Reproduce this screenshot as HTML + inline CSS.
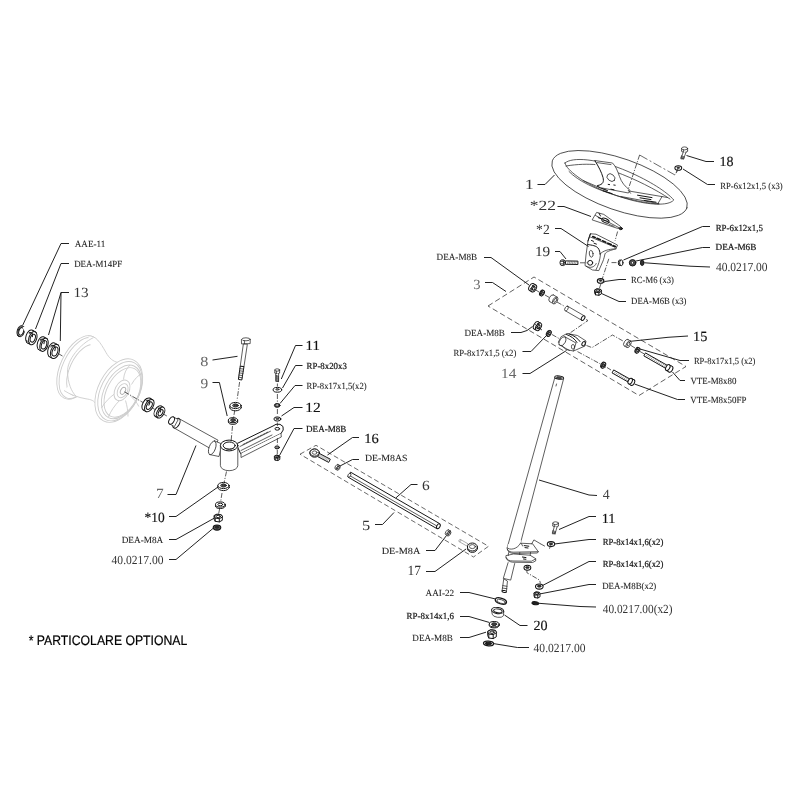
<!DOCTYPE html>
<html lang="it"><head><meta charset="utf-8"><title>Esploso sterzo</title>
<style>
html,body{margin:0;padding:0;background:#fff}
body{width:800px;height:800px;overflow:hidden}
svg{display:block;will-change:transform;-webkit-font-smoothing:antialiased}
text{text-rendering:geometricPrecision}
.l{fill:none;stroke:#2a2a2a;stroke-width:.75;stroke-linejoin:round;stroke-linecap:round}
.lb{fill:none;stroke:#161616;stroke-width:1;stroke-linejoin:round;stroke-linecap:round}
.lt{fill:none;stroke:#444;stroke-width:.55}
.lw{fill:none;stroke:#111;stroke-width:1.05}
.g{fill:none;stroke:#cdcdcd;stroke-width:.9}
.g2{fill:none;stroke:#999;stroke-width:.8}
.ld{fill:none;stroke:#161616;stroke-width:.95;stroke-linejoin:round}
.dd{fill:none;stroke:#333;stroke-width:.8;stroke-dasharray:5 1.5 1.2 1.5}
.dd2{fill:none;stroke:#444;stroke-width:.8;stroke-dasharray:9 2.5 2 2.5}
.ds2{fill:none;stroke:#444;stroke-width:.8;stroke-dasharray:5 2.8}
.ds{fill:none;stroke:#3a3a3a;stroke-width:.8;stroke-dasharray:5.5 3}
text{font-family:"Liberation Serif","DejaVu Serif",serif;fill:#222}
.ts{font-size:9.3px;fill:#222;stroke:#222;stroke-width:.08}
.tm{font-size:12.3px;fill:#333}
.tn{font-size:14px;fill:#111;stroke:#111;stroke-width:.15}
.tn2{font-size:14px;fill:#333}
.tg{font-size:14px;fill:#666}
.tg2{font-size:14px;fill:#444}
.tsb{font-size:9.3px;fill:#111;stroke:#111;stroke-width:.2}
.tb{font-family:"Liberation Sans","DejaVu Sans",sans-serif;font-size:13.7px;fill:#000;stroke:#000;stroke-width:.2}
</style></head>
<body>
<svg width="800" height="800" viewBox="0 0 800 800">
<rect width="800" height="800" fill="#fff"/>
<ellipse class="g" cx="78.5" cy="367.4" rx="34.0" ry="18.0" transform="rotate(-65.0 78.5 367.4)" style="fill:#fff"/>
<ellipse class="g" cx="79.7" cy="368.0" rx="32.6" ry="17.0" transform="rotate(-65.0 79.7 368.0)" />
<ellipse class="g" cx="84.0" cy="370.2" rx="27.5" ry="14.2" transform="rotate(-65.0 84.0 370.2)" />
<path class="g" d="M88 335.8 C96 335.5 100 342 106 352.5 C109 358 113 361.5 118 362.5 L140 380 L110 420 L96.5 404.5 C94 400.5 91 399.5 86 398.8 C78 397.5 70 394.5 64 390.5 L75 380 L92 350 Z" style="fill:#fff;stroke:none"/>
<path class="g" d="M88 335.8 C96 335.5 100 342 106 352.5 C109 358 113 361.5 118 362.5" />
<path class="g" d="M64 390.5 C70 394.5 78 397.5 86 398.8 C91 399.5 94 400.5 96.5 404.5" />
<path class="g" d="M93.5 337.6 C80 344 67 360 67.5 372 C68 383 71 391 76 396.2" />
<ellipse class="g" cx="118.8" cy="390.6" rx="34.0" ry="20.5" transform="rotate(-63.0 118.8 390.6)" style="fill:#fff"/>
<ellipse class="g" cx="120.0" cy="391.2" rx="31.8" ry="19.0" transform="rotate(-63.0 120.0 391.2)" />
<ellipse class="g" cx="121.4" cy="391.9" rx="28.8" ry="17.0" transform="rotate(-63.0 121.4 391.9)" />
<ellipse class="g" cx="122.4" cy="392.4" rx="26.6" ry="15.6" transform="rotate(-63.0 122.4 392.4)" />
<path class="g" d="M123.5 379.5 C124 373 126.5 368.5 130 365 M131.5 384.5 C134.5 379 138 375.5 142 373.5" />
<path class="g" d="M115 393.5 C109.5 397.5 104.5 402.5 101.5 408 M119.5 400.5 C114.5 405.5 110.5 411.5 108.5 417" />
<path class="g" d="M125.5 400.5 C127 405.5 128 411 128 416.5 M130.5 396 C134 399 137 402.5 138.8 406.5" />
<ellipse class="g" cx="122.0" cy="390.4" rx="11.0" ry="7.0" transform="rotate(-63.0 122.0 390.4)" style="fill:#fff"/>
<ellipse class="g" cx="122.6" cy="390.7" rx="7.5" ry="4.8" transform="rotate(-63.0 122.6 390.7)" />
<ellipse class="g" cx="123.0" cy="390.8" rx="3.8" ry="2.3" transform="rotate(-63.0 123.0 390.8)" style="stroke:#aaa"/>
<path class="dd" d="M59.0 354.0 L62.5 356.0" />
<path class="dd" d="M124.5 391.8 L143.0 402.5" />
<path class="l" d="M152.0 407.8 L154.5 409.2" />
<path class="l" d="M163.0 413.8 L166.5 415.8" />
<ellipse class="lb" cx="20.4" cy="330.9" rx="5.4" ry="3.1" transform="rotate(-72.0 20.4 330.9)" style="fill:#fff"/>
<path class="lb" d="M18.5 336.1 L17.7 335.6 L23.1 326.3 L23.9 326.7" style="fill:#fff;stroke:none"/>
<path class="lb" d="M18.5 336.1 L17.7 335.6" />
<path class="lb" d="M23.9 326.7 L23.1 326.3" />
<ellipse class="lb" cx="21.2" cy="331.4" rx="5.4" ry="3.1" transform="rotate(-72.0 21.2 331.4)" style="fill:#fff"/>
<ellipse class="lb" cx="21.2" cy="331.4" rx="3.9" ry="2.3" transform="rotate(-72.0 21.2 331.4)" style="fill:#fff"/>
<path class="lb" d="M24.2 327.9 L26.7 332.4" style="stroke:#fff;stroke-width:2.6"/>
<ellipse class="lb" cx="29.9" cy="336.5" rx="6.8" ry="3.9" transform="rotate(-72.0 29.9 336.5)" style="fill:#fff"/>
<path class="lb" d="M29.4 344.1 L26.5 342.4 L33.3 330.6 L36.2 332.3" style="fill:#fff;stroke:none"/>
<path class="lb" d="M29.4 344.1 L26.5 342.4" />
<path class="lb" d="M36.2 332.3 L33.3 330.6" />
<ellipse class="lb" cx="32.8" cy="338.2" rx="6.8" ry="3.9" transform="rotate(-72.0 32.8 338.2)" style="fill:#fff"/>
<ellipse class="lb" cx="32.8" cy="338.2" rx="4.1" ry="2.4" transform="rotate(-72.0 32.8 338.2)" style="fill:#fff"/>
<clipPath id="c1"><ellipse cx="32.8" cy="338.2" rx="4.1" ry="2.4" transform="rotate(-72.0 32.8 338.2)"/></clipPath>
<ellipse class="lb" cx="29.9" cy="336.5" rx="4.1" ry="2.4" transform="rotate(-72.0 29.9 336.5)" clip-path="url(#c1)" style="fill:none"/>
<path class="l" d="M29.0 332.2 L32.4 334.2" />
<path class="l" d="M26.2 340.4 L29.6 342.4" />
<ellipse class="lb" cx="41.4" cy="343.3" rx="6.8" ry="3.9" transform="rotate(-72.0 41.4 343.3)" style="fill:#fff"/>
<path class="lb" d="M40.6 350.7 L38.0 349.2 L44.8 337.4 L47.4 338.9" style="fill:#fff;stroke:none"/>
<path class="lb" d="M40.6 350.7 L38.0 349.2" />
<path class="lb" d="M47.4 338.9 L44.8 337.4" />
<ellipse class="lb" cx="44.0" cy="344.8" rx="6.8" ry="3.9" transform="rotate(-72.0 44.0 344.8)" style="fill:#fff"/>
<ellipse class="lb" cx="44.0" cy="344.8" rx="4.4" ry="2.5" transform="rotate(-72.0 44.0 344.8)" style="fill:#fff"/>
<clipPath id="c2"><ellipse cx="44.0" cy="344.8" rx="4.4" ry="2.5" transform="rotate(-72.0 44.0 344.8)"/></clipPath>
<ellipse class="lb" cx="41.4" cy="343.3" rx="4.4" ry="2.5" transform="rotate(-72.0 41.4 343.3)" clip-path="url(#c2)" style="fill:none"/>
<ellipse class="lb" cx="52.2" cy="349.9" rx="7.3" ry="4.2" transform="rotate(-72.0 52.2 349.9)" style="fill:#fff"/>
<path class="lb" d="M51.4 357.8 L48.6 356.2 L55.9 343.6 L58.6 345.2" style="fill:#fff;stroke:none"/>
<path class="lb" d="M51.4 357.8 L48.6 356.2" />
<path class="lb" d="M58.6 345.2 L55.9 343.6" />
<ellipse class="lb" cx="55.0" cy="351.5" rx="7.3" ry="4.2" transform="rotate(-72.0 55.0 351.5)" style="fill:#fff"/>
<ellipse class="lb" cx="55.0" cy="351.5" rx="4.7" ry="2.7" transform="rotate(-72.0 55.0 351.5)" style="fill:#fff"/>
<clipPath id="c3"><ellipse cx="55.0" cy="351.5" rx="4.7" ry="2.7" transform="rotate(-72.0 55.0 351.5)"/></clipPath>
<ellipse class="lb" cx="52.2" cy="349.9" rx="4.7" ry="2.7" transform="rotate(-72.0 52.2 349.9)" clip-path="url(#c3)" style="fill:none"/>
<ellipse class="lb" cx="146.7" cy="404.1" rx="6.8" ry="3.9" transform="rotate(-60.0 146.7 404.1)" style="fill:#fff"/>
<path class="lb" d="M145.9 411.5 L143.3 410.0 L150.1 398.2 L152.7 399.7" style="fill:#fff;stroke:none"/>
<path class="lb" d="M145.9 411.5 L143.3 410.0" />
<path class="lb" d="M152.7 399.7 L150.1 398.2" />
<ellipse class="lb" cx="149.3" cy="405.6" rx="6.8" ry="3.9" transform="rotate(-60.0 149.3 405.6)" style="fill:#fff"/>
<ellipse class="lb" cx="149.3" cy="405.6" rx="4.2" ry="2.4" transform="rotate(-60.0 149.3 405.6)" style="fill:#fff"/>
<clipPath id="c4"><ellipse cx="149.3" cy="405.6" rx="4.2" ry="2.4" transform="rotate(-60.0 149.3 405.6)"/></clipPath>
<ellipse class="lb" cx="146.7" cy="404.1" rx="4.2" ry="2.4" transform="rotate(-60.0 146.7 404.1)" clip-path="url(#c4)" style="fill:none"/>
<ellipse class="lb" cx="158.3" cy="411.3" rx="6.0" ry="3.5" transform="rotate(-60.0 158.3 411.3)" style="fill:#fff"/>
<path class="lb" d="M157.6 417.8 L155.3 416.5 L161.3 406.1 L163.6 407.4" style="fill:#fff;stroke:none"/>
<path class="lb" d="M157.6 417.8 L155.3 416.5" />
<path class="lb" d="M163.6 407.4 L161.3 406.1" />
<ellipse class="lb" cx="160.6" cy="412.6" rx="6.0" ry="3.5" transform="rotate(-60.0 160.6 412.6)" style="fill:#fff"/>
<ellipse class="lb" cx="160.6" cy="412.6" rx="3.5" ry="2.0" transform="rotate(-60.0 160.6 412.6)" style="fill:#fff"/>
<clipPath id="c5"><ellipse cx="160.6" cy="412.6" rx="3.5" ry="2.0" transform="rotate(-60.0 160.6 412.6)"/></clipPath>
<ellipse class="lb" cx="158.3" cy="411.3" rx="3.5" ry="2.0" transform="rotate(-60.0 158.3 411.3)" clip-path="url(#c5)" style="fill:none"/>
<path class="l" d="M158.0 408.0 L160.5 409.5" />
<path class="l" d="M156.0 415.6 L158.5 417.0" />
<path class="lb" d="M236.5 443.8 L273.0 426.0 L276.0 424.3 L280.0 424.3 L283.0 426.5 L283.2 430.0 L281.0 433.5 L241.0 453.5 Z" style="fill:#fff"/>
<path class="l" d="M281.0 433.5 L281.3 437.0 L241.0 457.5 L241.0 453.5" style="fill:#fff"/>
<path class="l" d="M240.0 446.5 L270.5 431.2" />
<path class="l" d="M241.0 450.5 L272.0 435.0" />
<path class="l" d="M243.0 444.5 L268.0 432.0" style="stroke-dasharray:2 1.2"/>
<ellipse class="lb" cx="277.3" cy="428.8" rx="2.3" ry="1.4" style="fill:#fff"/>
<path class="l" d="M178.6 418.4 L218.0 440.2 L214.0 450.6 L174.2 428.0" style="fill:#fff"/>
<ellipse class="lb" cx="176.4" cy="423.2" rx="5.3" ry="3.0" transform="rotate(-60.0 176.4 423.2)" style="fill:#fff"/>
<path class="l" d="M173.6 417.0 L178.2 419.6 L174.4 426.6 L169.6 424.0" style="fill:#fff"/>
<ellipse class="lb" cx="171.6" cy="420.5" rx="4.1" ry="2.4" transform="rotate(-60.0 171.6 420.5)" style="fill:#fff"/>
<path class="l" d="M214.8 441.0 L222.0 444.0 L219.0 456.5 L209.8 454.6 Z" style="fill:#fff"/>
<ellipse class="l" cx="212.3" cy="447.8" rx="7.2" ry="3.2" transform="rotate(-70.0 212.3 447.8)" style="fill:#fff"/>
<path class="l" d="M220.4 445.5 L220.4 465.5 A8.7 5.2 0 0 0 237.8 465.5 L237.8 445.5 Z" style="fill:#fff"/>
<ellipse class="lb" cx="229.1" cy="445.5" rx="8.7" ry="5.4" style="fill:#fff"/>
<ellipse class="lb" cx="229.2" cy="445.6" rx="6.0" ry="3.6" style="fill:#fff"/>
<path class="l" d="M223.8 447 A5.6 3.2 0 0 0 234.6 447" />
<path class="l" d="M241.8 339.4 L250.2 339.4 L250.2 343.6 L241.9 343.9 Z" style="fill:#fff"/>
<ellipse class="l" cx="246.0" cy="339.3" rx="4.2" ry="1.5" style="fill:#fff"/>
<path class="l" d="M244.4 340.8 L244.5 343.7" />
<path class="l" d="M243.3 344.4 L240.2 366.5 L243.9 367.0 L247.3 344.6 Z" style="fill:#fff"/>
<path class="lb" d="M240.2 366.5 L238.4 379.4 L241.8 380.0 L243.9 367.0 Z" style="fill:#fff"/>
<path class="l" d="M239.9 368.6 L243.5 369.1" />
<path class="l" d="M239.6 370.8 L243.2 371.3" />
<path class="l" d="M239.3 372.9 L242.9 373.4" />
<path class="l" d="M239.0 375.1 L242.6 375.6" />
<path class="l" d="M238.7 377.2 L242.3 377.8" />
<path class="dd" d="M239.6 382.0 L237.0 400.5" />
<path class="dd" d="M234.8 410.0 L233.5 418.0" />
<path class="dd" d="M232.5 426.0 L231.0 442.0" />
<ellipse class="lb" cx="235.5" cy="407.7" rx="5.6" ry="3.1" style="fill:#fff"/>
<rect x="229.9" y="405.5" width="11.2" height="2.2" fill="#fff" stroke="none"/>
<path class="lb" d="M229.9 405.5 L229.9 407.7" />
<path class="lb" d="M241.1 405.5 L241.1 407.7" />
<ellipse class="lb" cx="235.5" cy="405.5" rx="5.6" ry="3.1" style="fill:#fff"/>
<ellipse class="lb" cx="235.5" cy="405.5" rx="2.8" ry="1.5" style="fill:#fff"/>
<ellipse class="l" cx="235.5" cy="405.3" rx="2.0" ry="1.1" style="fill:#444"/>
<ellipse class="lb" cx="233.0" cy="421.8" rx="4.6" ry="2.5" style="fill:#fff"/>
<rect x="228.4" y="420.2" width="9.2" height="1.6" fill="#fff" stroke="none"/>
<path class="lb" d="M228.4 420.2 L228.4 421.8" />
<path class="lb" d="M237.6 420.2 L237.6 421.8" />
<ellipse class="lb" cx="233.0" cy="420.2" rx="4.6" ry="2.5" style="fill:#fff"/>
<ellipse class="lb" cx="233.0" cy="420.2" rx="2.3" ry="1.3" style="fill:#fff"/>
<ellipse class="l" cx="233.0" cy="419.8" rx="1.8" ry="1.0" style="fill:#444"/>
<path class="dd" d="M226.5 471.5 L224.0 483.0" />
<path class="dd" d="M222.0 493.0 L220.6 502.0" />
<path class="dd" d="M219.6 509.0 L218.6 514.0" />
<ellipse class="lb" cx="223.5" cy="487.5" rx="5.6" ry="3.1" style="fill:#fff"/>
<rect x="217.9" y="485.5" width="11.2" height="2.0" fill="#fff" stroke="none"/>
<path class="lb" d="M217.9 485.5 L217.9 487.5" />
<path class="lb" d="M229.1 485.5 L229.1 487.5" />
<ellipse class="lb" cx="223.5" cy="485.5" rx="5.6" ry="3.1" style="fill:#fff"/>
<ellipse class="lb" cx="223.5" cy="485.5" rx="2.8" ry="1.5" style="fill:#fff"/>
<ellipse class="l" cx="223.5" cy="485.3" rx="2.0" ry="1.1" style="fill:#444"/>
<ellipse class="lb" cx="220.3" cy="505.9" rx="4.8" ry="2.6" style="fill:#fff"/>
<rect x="215.5" y="504.5" width="9.6" height="1.4" fill="#fff" stroke="none"/>
<path class="lb" d="M215.5 504.5 L215.5 505.9" />
<path class="lb" d="M225.1 504.5 L225.1 505.9" />
<ellipse class="lb" cx="220.3" cy="504.5" rx="4.8" ry="2.6" style="fill:#fff"/>
<ellipse class="lb" cx="220.3" cy="504.5" rx="2.4" ry="1.3" style="fill:#fff"/>
<path class="lb" d="M214.1 515.9 L214.1 519.1 L215.2 521.3 L219.3 521.9 L222.3 520.3 L222.3 517.1 L221.2 514.9 L217.1 514.3 Z" style="fill:#fff"/>
<path class="lb" d="M222.3 517.1 L219.3 518.7 L215.2 518.1 L214.1 515.9 L217.1 514.3 L221.2 514.9 Z" style="fill:#fff"/>
<path class="lb" d="M219.3 518.7 L219.3 521.9" />
<path class="lb" d="M215.2 518.1 L215.2 521.3" />
<ellipse class="lb" cx="218.2" cy="516.5" rx="2.1" ry="1.2" style="fill:#fff"/>
<ellipse class="lw" cx="217.0" cy="527.5" rx="3.8" ry="2.6" style="fill:#555"/>
<ellipse class="lw" cx="217.0" cy="527.2" rx="1.8" ry="1.0" style="fill:#333;stroke-width:0.6"/>
<ellipse class="l" cx="277.2" cy="370.0" rx="2.4" ry="1.2" style="fill:#fff"/>
<path class="l" d="M274.8 370.0 L274.8 372.8" />
<path class="l" d="M279.6 370.0 L279.6 372.8" />
<path class="l" d="M274.8 372.8 A2.4 1.2 0 0 0 279.6 372.8" />
<path class="l" d="M276.4 371.2 L276.4 374.0" />
<path class="l" d="M275.8 374.0 L275.8 381.5 L278.6 381.5 L278.6 374.0" style="fill:#fff"/>
<path class="l" d="M275.8 380.4 L278.6 381.6" />
<path class="l" d="M275.8 379.4 L278.6 380.6" />
<path class="l" d="M275.8 378.3 L278.6 379.5" />
<path class="l" d="M275.8 377.3 L278.6 378.5" />
<path class="l" d="M275.8 376.2 L278.6 377.4" />
<path class="l" d="M275.8 375.2 L278.6 376.4" />
<path class="dd" d="M277.4 383.5 L277.4 386.5" />
<ellipse class="lb" cx="277.4" cy="389.8" rx="4.3" ry="2.4" style="fill:#fff"/>
<ellipse class="l" cx="277.4" cy="389.4" rx="1.6" ry="0.8" style="fill:#888"/>
<path class="dd" d="M277.4 394.0 L277.4 402.0" />
<ellipse class="lb" cx="277.2" cy="405.4" rx="2.8" ry="1.9" style="fill:#555"/>
<ellipse class="l" cx="277.2" cy="405.0" rx="1.0" ry="0.6" style="fill:#fff;stroke:none"/>
<path class="dd" d="M277.4 409.0 L277.4 415.0" />
<ellipse class="lb" cx="277.4" cy="419.0" rx="3.5" ry="2.1" style="fill:#fff"/>
<ellipse class="l" cx="277.4" cy="418.8" rx="1.5" ry="0.8" style="fill:#555"/>
<path class="dd" d="M277.4 422.5 L277.4 426.0" />
<path class="dd" d="M277.4 438.0 L277.4 445.0" />
<ellipse class="lb" cx="277.1" cy="447.4" rx="2.3" ry="1.5" style="fill:#888"/>
<path class="dd" d="M277.3 450.0 L277.3 454.5" />
<path class="lb" d="M274.4 456.4 L274.4 458.6 L275.1 460.1 L277.8 460.5 L279.8 459.4 L279.8 457.2 L279.1 455.7 L276.4 455.3 Z" style="fill:#fff"/>
<path class="lb" d="M279.8 457.2 L277.8 458.3 L275.1 457.9 L274.4 456.4 L276.4 455.3 L279.1 455.7 Z" style="fill:#fff"/>
<path class="lb" d="M277.8 458.3 L277.8 460.5" />
<path class="lb" d="M275.1 457.9 L275.1 460.1" />
<ellipse class="lb" cx="277.1" cy="456.8" rx="1.4" ry="0.8" style="fill:#fff"/>
<path class="ds2" d="M300.0 454.2 L316.0 445.3 L488.5 546.3 L473.5 557.0 Z" />
<path class="lb" d="M317.7 456.6 L328.7 462.4 L330.3 459.2 L319.3 453.4 Z" style="fill:#fff"/>
<path class="lt" d="M318.5 457.1 L321.1 454.3" />
<path class="lt" d="M319.9 457.8 L322.4 455.0" />
<path class="lt" d="M321.2 458.5 L323.8 455.7" />
<path class="lt" d="M322.5 459.2 L325.1 456.4" />
<path class="lt" d="M323.9 459.9 L326.4 457.1" />
<path class="lt" d="M325.2 460.6 L327.7 457.8" />
<path class="lt" d="M326.5 461.3 L329.1 458.5" />
<ellipse class="lb" cx="314.6" cy="452.6" rx="4.6" ry="3.6" style="fill:#fff"/>
<ellipse class="lb" cx="314.6" cy="453.6" rx="4.6" ry="3.6" style="fill:#fff"/>
<ellipse class="lb" cx="314.6" cy="452.6" rx="4.6" ry="3.6" style="fill:#fff"/>
<ellipse class="l" cx="314.6" cy="452.6" rx="2.4" ry="1.7" style="fill:#fff"/>
<ellipse class="l" cx="336.8" cy="466.9" rx="2.6" ry="1.5" transform="rotate(-60.0 336.8 466.9)" style="fill:#fff"/>
<path class="l" d="M337.1 470.1 L335.5 469.2 L338.1 464.6 L339.7 465.5" style="fill:#fff;stroke:none"/>
<path class="l" d="M337.1 470.1 L335.5 469.2" />
<path class="l" d="M339.7 465.5 L338.1 464.6" />
<ellipse class="l" cx="338.4" cy="467.8" rx="2.6" ry="1.5" transform="rotate(-60.0 338.4 467.8)" style="fill:#fff"/>
<ellipse class="l" cx="338.4" cy="467.8" rx="1.3" ry="0.8" transform="rotate(-60.0 338.4 467.8)" style="fill:#fff"/>
<path class="l" d="M339.0 466.8 L337.4 465.9" />
<path class="l" d="M337.8 468.8 L336.3 467.9" />
<path class="lb" d="M349.2 474.0 L350.6 472.2 L439.6 523.6 L438.4 528.2 L436.8 528.6 L348.2 477.2 Z" style="fill:#fff"/>
<path class="l" d="M349.4 475.4 L437.6 526.4" />
<ellipse class="l" cx="349.4" cy="475.2" rx="2.2" ry="1.3" transform="rotate(-60.0 349.4 475.2)" style="fill:#fff"/>
<ellipse class="lb" cx="438.4" cy="526.2" rx="2.6" ry="1.6" transform="rotate(-60.0 438.4 526.2)" style="fill:#fff"/>
<ellipse class="l" cx="447.3" cy="532.4" rx="2.8" ry="1.6" transform="rotate(-60.0 447.3 532.4)" style="fill:#fff"/>
<path class="l" d="M447.6 535.8 L445.9 534.8 L448.7 530.0 L450.4 531.0" style="fill:#fff;stroke:none"/>
<path class="l" d="M447.6 535.8 L445.9 534.8" />
<path class="l" d="M450.4 531.0 L448.7 530.0" />
<ellipse class="l" cx="449.0" cy="533.4" rx="2.8" ry="1.6" transform="rotate(-60.0 449.0 533.4)" style="fill:#fff"/>
<ellipse class="l" cx="449.0" cy="533.4" rx="1.4" ry="0.8" transform="rotate(-60.0 449.0 533.4)" style="fill:#fff"/>
<path class="l" d="M449.6 532.3 L447.9 531.3" />
<path class="l" d="M448.4 534.5 L446.6 533.5" />
<path class="g2" d="M460.5 539.5 L468.0 543.8 L466.8 546.0 L459.3 541.7 Z" style="fill:#fff"/>
<ellipse class="g2" cx="459.9" cy="540.6" rx="1.3" ry="0.9" transform="rotate(-60.0 459.9 540.6)" style="fill:#fff"/>
<ellipse class="lb" cx="472.4" cy="548.4" rx="5.0" ry="4.0" style="fill:#fff"/>
<ellipse class="lb" cx="472.4" cy="547.0" rx="5.0" ry="4.0" style="fill:#fff"/>
<ellipse class="l" cx="472.4" cy="546.6" rx="3.0" ry="2.0" style="fill:#fff"/>
<path class="l" d="M554.6 378.4 L507.2 547.7 L520.4 543.4 L563.6 378.8" style="fill:#fff"/>
<ellipse class="lb" cx="559.1" cy="377.6" rx="4.5" ry="1.6" transform="rotate(8.0 559.1 377.6)" style="fill:#fff"/>
<ellipse class="l" cx="559.1" cy="377.7" rx="2.6" ry="0.8" transform="rotate(8.0 559.1 377.7)" style="fill:#555"/>
<path class="l" d="M556.5 384.0 L556.0 386.0" />
<path class="l" d="M508.1 562.6 L503.3 578.4 L510.7 580.1 L514.7 563.5" style="fill:#fff"/>
<path class="l" d="M503.7 579.2 L502.0 591.2 L506.4 591.8 L507.4 581.5 Z" style="fill:#fff"/>
<path class="l" d="M502.4 588.0 L506.8 588.7" />
<path class="l" d="M502.8 585.6 L507.0 586.3" />
<ellipse class="lb" cx="504.2" cy="591.5" rx="2.3" ry="0.9" transform="rotate(8.0 504.2 591.5)" style="fill:#fff"/>
<path class="l" d="M505.9 556 C505.6 559 507.5 561.3 512.5 562.2 L532.6 562.5 L535.7 560.9 L535.7 558.7 L530 555.2 L514 554 Z" style="fill:#fff"/>
<path class="l" d="M506.2 557.6 C507 560 509.5 561 513 561 L531.5 561.2 L535.7 558.9" />
<path class="lb" d="M522.4 557 l3.6 .6 M523.5 559 l2.4 .3" />
<path class="l" d="M508.6 552.6 L508.2 555.6" />
<path class="l" d="M530.6 552.2 L530.2 555.0" />
<path class="l" d="M519.8 552.4 L519.6 554.4" />
<path class="l" d="M507.2 547.7 C506.8 550 508.3 551.6 513 552.2 L538.3 551.7 L532.6 543.8 L520.4 543.2 Z" style="fill:#fff"/>
<path class="l" d="M507.3 549 C507.6 551.6 509.5 553 513.5 553.4 L537.4 553 L538.3 551.7" />
<path class="l" d="M508.2 544.2 L507.2 547.7 C509 550.2 516.5 549.6 520.4 543.4 L521.3 540 Z" style="fill:#fff;stroke:none"/>
<path class="l" d="M507.2 547.7 C509 550.4 517 549.8 520.4 543.4" />
<path class="lb" d="M524.2 545.6 l4.6 .6 M525 547.6 l3 .4" />
<path class="l" d="M521.4 543.6 l1.2 2.4" />
<path class="l" d="M531.7 543.8 L533.9 539.9 L540.5 543.8" />
<ellipse class="l" cx="555.6" cy="523.2" rx="2.8" ry="1.4" style="fill:#fff"/>
<path class="l" d="M552.8 523.2 L552.8 525.8" />
<path class="l" d="M558.4 523.2 L558.4 525.8" />
<path class="l" d="M552.8 525.8 A2.8 1.4 0 0 0 558.4 525.8" />
<path class="l" d="M554.7 524.6 L554.7 527.2" />
<path class="l" d="M554.2 527.0 L552.3 533.8 L555.1 533.8 L557.0 527.0" style="fill:#fff"/>
<path class="l" d="M552.3 532.7 L555.1 533.9" />
<path class="l" d="M552.6 531.7 L555.4 532.9" />
<path class="l" d="M552.9 530.6 L555.7 531.8" />
<ellipse class="lw" cx="551.0" cy="544.1" rx="3.7" ry="2.5" style="fill:#fff"/>
<ellipse class="lw" cx="551.0" cy="543.9" rx="1.7" ry="1.0" style="fill:#333;stroke-width:0.6"/>
<path class="l" d="M550.4 545.6 L549.6 548.4" />
<path class="dd" d="M540.5 543.8 L545.6 546.6" />
<ellipse class="lw" cx="527.4" cy="567.8" rx="3.4" ry="2.5" style="fill:#fff"/>
<ellipse class="lw" cx="527.4" cy="567.5" rx="1.8" ry="1.0" style="fill:#333;stroke-width:0.6"/>
<path class="dd" d="M526.9 569.8 L526.9 572.7 L539.6 580.1 L540.4 583.4" />
<ellipse class="lw" cx="539.3" cy="586.5" rx="3.8" ry="2.6" style="fill:#fff"/>
<ellipse class="lw" cx="539.3" cy="586.2" rx="2.0" ry="1.1" style="fill:#333;stroke-width:0.6"/>
<path class="lb" d="M534.0 593.2 L534.0 596.0 L534.8 597.6 L537.8 598.0 L540.0 596.8 L540.0 594.0 L539.2 592.4 L536.2 592.0 Z" style="fill:#fff"/>
<path class="lb" d="M540.0 594.0 L537.8 595.2 L534.8 594.8 L534.0 593.2 L536.2 592.0 L539.2 592.4 Z" style="fill:#fff"/>
<path class="lb" d="M537.8 595.2 L537.8 598.0" />
<path class="lb" d="M534.8 594.8 L534.8 597.6" />
<ellipse class="lb" cx="537.0" cy="593.6" rx="1.6" ry="0.9" style="fill:#fff"/>
<ellipse class="lb" cx="535.3" cy="603.2" rx="3.4" ry="1.5" transform="rotate(8.0 535.3 603.2)" style="fill:#222"/>
<ellipse class="lb" cx="500.9" cy="601.0" rx="5.8" ry="2.8" transform="rotate(18.0 500.9 601.0)" style="fill:#fff;stroke-width:1.3"/>
<ellipse class="l" cx="501.1" cy="601.5" rx="4.4" ry="1.8" transform="rotate(18.0 501.1 601.5)" style="fill:#fff"/>
<path class="l" d="M491.6 610 L492.2 614.2 A5.8 3 8 0 0 503.4 615.8 L503.8 611.6 Z" style="fill:#fff"/>
<ellipse class="lb" cx="497.7" cy="610.6" rx="6.1" ry="3.1" transform="rotate(8.0 497.7 610.6)" style="fill:#fff"/>
<ellipse class="lb" cx="497.9" cy="610.9" rx="4.3" ry="1.9" transform="rotate(8.0 497.9 610.9)" style="fill:#fff"/>
<ellipse class="lb" cx="494.2" cy="625.2" rx="4.9" ry="2.7" style="fill:#fff"/>
<rect x="489.3" y="624.2" width="9.8" height="1.0" fill="#fff" stroke="none"/>
<path class="lb" d="M489.3 624.2 L489.3 625.2" />
<path class="lb" d="M499.1 624.2 L499.1 625.2" />
<ellipse class="lb" cx="494.2" cy="624.2" rx="4.9" ry="2.7" style="fill:#fff"/>
<ellipse class="lb" cx="494.2" cy="624.2" rx="2.5" ry="1.3" style="fill:#fff"/>
<ellipse class="l" cx="494.2" cy="624.2" rx="2.3" ry="1.2" style="fill:#444"/>
<path class="lb" d="M487.7 631.6 L487.7 635.6 L488.8 638.0 L493.2 638.6 L496.3 636.8 L496.3 632.8 L495.2 630.4 L490.8 629.8 Z" style="fill:#fff"/>
<path class="lb" d="M496.3 632.8 L493.2 634.6 L488.8 634.0 L487.7 631.6 L490.8 629.8 L495.2 630.4 Z" style="fill:#fff"/>
<path class="lb" d="M493.2 634.6 L493.2 638.6" />
<path class="lb" d="M488.8 634.0 L488.8 638.0" />
<ellipse class="lb" cx="492.0" cy="632.2" rx="2.2" ry="1.2" style="fill:#fff"/>
<ellipse class="lb" cx="488.5" cy="643.5" rx="5.0" ry="2.3" transform="rotate(5.0 488.5 643.5)" style="fill:#fff;stroke-width:1.3"/>
<ellipse class="lb" cx="488.5" cy="643.5" rx="3.0" ry="1.2" transform="rotate(5.0 488.5 643.5)" style="fill:#222"/>
<path class="ds" d="M488.0 306.0 L534.0 277.0 L686.0 366.5 L639.0 395.5 Z" />
<ellipse class="lb" cx="531.5" cy="287.1" rx="3.9" ry="2.3" transform="rotate(-60.0 531.5 287.1)" style="fill:#fff"/>
<path class="lb" d="M531.8 291.8 L529.6 290.5 L533.5 283.7 L535.8 285.0" style="fill:#fff;stroke:none"/>
<path class="lb" d="M531.8 291.8 L529.6 290.5" />
<path class="lb" d="M535.8 285.0 L533.5 283.7" />
<ellipse class="lb" cx="533.8" cy="288.4" rx="3.9" ry="2.3" transform="rotate(-60.0 533.8 288.4)" style="fill:#fff"/>
<ellipse class="lb" cx="533.8" cy="288.4" rx="1.9" ry="1.1" transform="rotate(-60.0 533.8 288.4)" style="fill:#fff"/>
<path class="lb" d="M534.7 286.9 L532.4 285.6" />
<path class="lb" d="M532.9 289.9 L530.7 288.6" />
<ellipse class="lb" cx="541.6" cy="292.8" rx="2.9" ry="1.7" transform="rotate(-60.0 541.6 292.8)" style="fill:#fff"/>
<path class="lb" d="M540.9 295.7 L540.2 295.3 L543.1 290.2 L543.9 290.7" style="fill:#fff;stroke:none"/>
<path class="lb" d="M540.9 295.7 L540.2 295.3" />
<path class="lb" d="M543.9 290.7 L543.1 290.2" />
<ellipse class="lb" cx="542.4" cy="293.2" rx="2.9" ry="1.7" transform="rotate(-60.0 542.4 293.2)" style="fill:#fff"/>
<ellipse class="lb" cx="542.4" cy="293.2" rx="1.4" ry="0.8" transform="rotate(-60.0 542.4 293.2)" style="fill:#fff"/>
<ellipse class="l" cx="551.6" cy="298.3" rx="3.8" ry="2.2" transform="rotate(-60.0 551.6 298.3)" style="fill:#fff"/>
<path class="l" d="M553.3 303.7 L549.7 301.6 L553.5 295.0 L557.1 297.1" style="fill:#fff;stroke:none"/>
<path class="l" d="M553.3 303.7 L549.7 301.6" />
<path class="l" d="M557.1 297.1 L553.5 295.0" />
<ellipse class="l" cx="555.2" cy="300.4" rx="3.8" ry="2.2" transform="rotate(-60.0 555.2 300.4)" style="fill:#fff"/>
<ellipse class="l" cx="555.2" cy="300.4" rx="2.1" ry="1.2" transform="rotate(-60.0 555.2 300.4)" style="fill:#fff"/>
<path class="l" d="M567.6 306.2 L584.2 315.8 L582.0 320.4 L565.4 310.8 Z" style="fill:#fff"/>
<ellipse class="l" cx="566.5" cy="308.5" rx="2.6" ry="1.5" transform="rotate(-60.0 566.5 308.5)" style="fill:#fff"/>
<ellipse class="lb" cx="583.1" cy="318.1" rx="2.6" ry="1.5" transform="rotate(-60.0 583.1 318.1)" style="fill:#fff"/>
<path class="dd" d="M535.0 289.5 L539.0 292.0" />
<path class="dd" d="M545.0 295.0 L549.0 297.3" />
<path class="dd" d="M557.0 302.0 L564.0 306.0" />
<path class="dd" d="M586.0 319.5 L588.0 320.5 L570.0 333.0" />
<ellipse class="lb" cx="536.3" cy="325.5" rx="4.2" ry="2.4" transform="rotate(-60.0 536.3 325.5)" style="fill:#fff"/>
<path class="lb" d="M536.5 330.4 L534.2 329.1 L538.4 321.9 L540.7 323.2" style="fill:#fff;stroke:none"/>
<path class="lb" d="M536.5 330.4 L534.2 329.1" />
<path class="lb" d="M540.7 323.2 L538.4 321.9" />
<ellipse class="lb" cx="538.6" cy="326.8" rx="4.2" ry="2.4" transform="rotate(-60.0 538.6 326.8)" style="fill:#fff"/>
<ellipse class="lb" cx="538.6" cy="326.8" rx="2.1" ry="1.2" transform="rotate(-60.0 538.6 326.8)" style="fill:#fff"/>
<path class="lb" d="M539.5 325.2 L537.3 323.9" />
<path class="lb" d="M537.7 328.4 L535.4 327.1" />
<path class="lb" d="M535.5 324.7 L541.5 329.7" />
<ellipse class="lb" cx="548.4" cy="333.2" rx="3.0" ry="1.7" transform="rotate(-60.0 548.4 333.2)" style="fill:#fff"/>
<path class="lb" d="M547.7 336.2 L546.9 335.7 L549.9 330.6 L550.7 331.0" style="fill:#fff;stroke:none"/>
<path class="lb" d="M547.7 336.2 L546.9 335.7" />
<path class="lb" d="M550.7 331.0 L549.9 330.6" />
<ellipse class="lb" cx="549.2" cy="333.6" rx="3.0" ry="1.7" transform="rotate(-60.0 549.2 333.6)" style="fill:#fff"/>
<ellipse class="lb" cx="549.2" cy="333.6" rx="1.5" ry="0.9" transform="rotate(-60.0 549.2 333.6)" style="fill:#fff"/>
<path class="dd" d="M552.0 334.5 L559.0 338.5" />
<path class="l" d="M561.5 336.5 L567.0 333.5 L577.5 335.5 L586.0 341.0 L585.0 346.0 L573.5 351.0 L566.0 349.5 L558.6 342.5 Z" style="fill:#fff"/>
<ellipse class="l" cx="562.6" cy="341.2" rx="4.9" ry="2.8" transform="rotate(-60.0 562.6 341.2)" style="fill:#fff"/>
<path class="l" d="M565.3 337.0 L576.0 343.0 L573.5 351.0" />
<path class="l" d="M558.8 344.5 L569.5 350.5" />
<path class="lb" d="M566.5 334.5 C571 336 575 339 577 342.5" />
<path class="lb" d="M569 333.8 C574 335.5 578 338.5 580 341.5" />
<ellipse class="lb" cx="583.6" cy="343.7" rx="2.3" ry="1.5" transform="rotate(-60.0 583.6 343.7)" style="fill:#fff"/>
<ellipse class="l" cx="573.0" cy="346.8" rx="1.6" ry="2.4" />
<path class="dd" d="M586.5 345.5 L592.0 347.6 L612.5 335.0 L623.5 341.3" />
<ellipse class="l" cx="626.2" cy="342.8" rx="3.7" ry="2.1" transform="rotate(-60.0 626.2 342.8)" style="fill:#fff"/>
<path class="l" d="M626.8 347.4 L624.3 346.0 L628.0 339.6 L630.5 341.0" style="fill:#fff;stroke:none"/>
<path class="l" d="M626.8 347.4 L624.3 346.0" />
<path class="l" d="M630.5 341.0 L628.0 339.6" />
<ellipse class="l" cx="628.6" cy="344.2" rx="3.7" ry="2.1" transform="rotate(-60.0 628.6 344.2)" style="fill:#fff"/>
<ellipse class="l" cx="628.6" cy="344.2" rx="1.9" ry="1.1" transform="rotate(-60.0 628.6 344.2)" style="fill:#fff"/>
<ellipse class="lb" cx="637.0" cy="350.1" rx="2.9" ry="1.7" transform="rotate(-60.0 637.0 350.1)" style="fill:#fff"/>
<path class="lb" d="M636.3 353.0 L635.6 352.6 L638.5 347.5 L639.2 348.0" style="fill:#fff;stroke:none"/>
<path class="lb" d="M636.3 353.0 L635.6 352.6" />
<path class="lb" d="M639.2 348.0 L638.5 347.5" />
<ellipse class="lb" cx="637.8" cy="350.5" rx="2.9" ry="1.7" transform="rotate(-60.0 637.8 350.5)" style="fill:#fff"/>
<ellipse class="lb" cx="637.8" cy="350.5" rx="1.4" ry="0.8" transform="rotate(-60.0 637.8 350.5)" style="fill:#fff"/>
<path class="dd" d="M631.0 345.5 L635.0 348.0" />
<path class="dd" d="M640.0 351.5 L644.0 353.8" />
<path class="lb" d="M644.2 356.1 L667.0 369.1 L668.6 366.1 L645.8 353.1 Z" style="fill:#fff"/>
<path class="lt" d="M645.4 356.8 L647.9 354.3" />
<path class="lt" d="M647.0 357.7 L649.6 355.3" />
<path class="lt" d="M648.7 358.7 L651.2 356.2" />
<path class="lt" d="M650.3 359.6 L652.9 357.1" />
<path class="lt" d="M652.0 360.5 L654.5 358.1" />
<path class="lt" d="M653.6 361.5 L656.2 359.0" />
<path class="lt" d="M655.3 362.4 L657.8 360.0" />
<path class="lt" d="M656.9 363.4 L659.5 360.9" />
<path class="lt" d="M658.6 364.3 L661.1 361.8" />
<path class="lt" d="M660.2 365.2 L662.8 362.8" />
<path class="lt" d="M661.9 366.2 L664.4 363.7" />
<path class="lt" d="M663.5 367.1 L666.1 364.7" />
<ellipse class="lb" cx="670.6" cy="369.2" rx="3.2" ry="1.9" transform="rotate(119.7 670.6 369.2)" style="fill:#fff"/>
<path class="lb" d="M666.2 370.4 L669.0 372.0 L672.2 366.4 L669.4 364.8" style="fill:#fff;stroke:none"/>
<path class="lb" d="M666.2 370.4 L669.0 372.0" />
<path class="lb" d="M669.4 364.8 L672.2 366.4" />
<ellipse class="lb" cx="667.8" cy="367.6" rx="3.2" ry="1.9" transform="rotate(119.7 667.8 367.6)" style="fill:#fff"/>
<path class="dd" d="M577.5 351.6 L600.5 364.0" />
<ellipse class="lb" cx="602.8" cy="364.9" rx="3.0" ry="1.7" transform="rotate(-60.0 602.8 364.9)" style="fill:#fff"/>
<path class="lb" d="M602.1 368.0 L601.3 367.5 L604.3 362.4 L605.1 362.8" style="fill:#fff;stroke:none"/>
<path class="lb" d="M602.1 368.0 L601.3 367.5" />
<path class="lb" d="M605.1 362.8 L604.3 362.4" />
<ellipse class="lb" cx="603.6" cy="365.4" rx="3.0" ry="1.7" transform="rotate(-60.0 603.6 365.4)" style="fill:#fff"/>
<ellipse class="lb" cx="603.6" cy="365.4" rx="1.5" ry="0.9" transform="rotate(-60.0 603.6 365.4)" style="fill:#fff"/>
<path class="l" d="M601.5 363.6 L605.7 367.2" />
<path class="dd" d="M607.0 367.5 L611.0 370.0" />
<path class="lb" d="M612.4 373.1 L629.4 382.7 L631.0 379.7 L614.0 370.1 Z" style="fill:#fff"/>
<path class="lt" d="M613.6 373.8 L616.1 371.3" />
<path class="lt" d="M615.2 374.7 L617.8 372.2" />
<path class="lt" d="M616.9 375.6 L619.4 373.2" />
<path class="lt" d="M618.5 376.6 L621.1 374.1" />
<path class="lt" d="M620.2 377.5 L622.7 375.0" />
<path class="lt" d="M621.9 378.4 L624.4 376.0" />
<path class="lt" d="M623.5 379.4 L626.1 376.9" />
<path class="lt" d="M625.2 380.3 L627.7 377.8" />
<path class="lt" d="M626.8 381.2 L629.4 378.8" />
<ellipse class="lb" cx="632.5" cy="382.5" rx="3.1" ry="1.9" transform="rotate(119.5 632.5 382.5)" style="fill:#fff"/>
<path class="lb" d="M628.7 383.9 L630.9 385.2 L634.0 379.8 L631.7 378.5" style="fill:#fff;stroke:none"/>
<path class="lb" d="M628.7 383.9 L630.9 385.2" />
<path class="lb" d="M631.7 378.5 L634.0 379.8" />
<ellipse class="lb" cx="630.2" cy="381.2" rx="3.1" ry="1.9" transform="rotate(119.5 630.2 381.2)" style="fill:#fff"/>
<ellipse class="l" cx="619.6" cy="184.4" rx="71.3" ry="25.8" transform="rotate(19.3 619.6 184.4)" style="fill:#fff"/>
<path class="l" d="M565 163 C572 156.5 598 158.5 628 171.5 C650 181 667 192 673.8 200 C668 206.5 648 204.5 631 200 C612 195 590 186 578 177 C570 171 566 167 565 163 Z" />
<path class="l" d="M566 166 C578 164 588 164 596 164.6" />
<path class="l" d="M616 172 C634 178.5 656 189.5 670 199" />
<path class="l" d="M569 171.5 C578 181 596 189.5 618 196 C634 200.5 648 203.5 659 204" />
<path class="l" d="M628.8 191 L667.5 197.5 M621 196.5 L658.8 203.6" />
<path class="lb" d="M637.5 195.2 L652 197.6 M640 197.8 L651 199.6 M644 200.4 L656 202.2" />
<path class="l" d="M662 196.6 L658 203.5" />
<path class="l" d="M583 180.5 L606 190.3" />
<path class="lb" d="M597.5 186.4 L607.5 190.6 M603 190.8 L612 193.6" />
<path class="l" d="M595 160.6 L612.5 163 C616 166.5 617.5 171 619.5 176.5 C621.5 182.5 625 186.5 630 190.3 L628.5 193 L600 187.6" style="fill:#fff"/>
<path class="lb" d="M595 160.8 C598.5 166.5 601.5 172 603 177.5 C604 181.5 603.5 184.5 597.5 185.6" style="fill:#fff"/>
<path class="l" d="M597 162.6 L611 164.6" />
<ellipse class="l" cx="611.0" cy="177.6" rx="4.4" ry="3.3" transform="rotate(40.0 611.0 177.6)" />
<path class="lb" d="M608.2 184.4 l1.4 0.2 M613.8 185 l1.4 0.2 M611 189.2 l3 0.6" />
<path class="dd" d="M639.6 155.0 L628.0 190.0 L630.8 193.6" />
<path class="dd2" d="M639.6 155.0 L675.0 175.0 L678.3 169.0" />
<ellipse class="l" cx="684.6" cy="148.4" rx="3.0" ry="1.5" style="fill:#fff"/>
<path class="l" d="M681.6 148.4 L681.6 151.0" />
<path class="l" d="M687.6 148.4 L687.6 151.0" />
<path class="l" d="M681.6 151.0 A3.0 1.5 0 0 0 687.6 151.0" />
<path class="l" d="M683.6 149.9 L683.6 152.5" />
<path class="l" d="M683.2 152.2 L680.8 158.9 L683.6 158.9 L686.0 152.2" style="fill:#fff"/>
<path class="l" d="M680.8 157.8 L683.6 159.0" />
<path class="l" d="M681.2 156.8 L684.0 158.0" />
<path class="l" d="M681.5 155.8 L684.3 157.0" />
<ellipse class="lw" cx="678.3" cy="168.0" rx="3.4" ry="2.3" style="fill:#fff"/>
<ellipse class="lw" cx="678.3" cy="167.8" rx="1.4" ry="0.8" style="fill:#333;stroke-width:0.6"/>
<path class="l" d="M677.8 169.0 L676.2 172.8" />
<path class="l" d="M597 212.5 L603.8 214.4 L620 226 L622.6 228.8 L617 228.2 L592.5 220 Z" style="fill:#fff"/>
<path class="l" d="M595.5 215.5 L613 224.5 L620.5 228.5" />
<path class="lb" d="M599 213.2 L600.5 216 M598.2 217.6 l3 1.2" />
<ellipse class="lb" cx="605.4" cy="220.6" rx="3.9" ry="2.0" transform="rotate(25.0 605.4 220.6)" />
<path class="lb" d="M603 220 l4.6 1.4" />
<ellipse class="lb" cx="620.8" cy="228.6" rx="1.6" ry="1.1" style="fill:#333"/>
<path class="l" d="M609 224.4 l5 1.9" />
<path class="l" d="M590.6 233.8 L596 234.2 L617.5 245 L616 248.8 C610 250.5 606.5 251.5 605 253.8 C604.3 257 603.8 259 603 261 L598.8 270.6 L592.5 270 L585 265.6 L586 255 L588 241 Z" style="fill:#fff"/>
<path class="lb" d="M588 241 L589.5 236.5 L590.6 233.8" />
<path class="lb" d="M587.8 244.6 C592 245 596.5 246 598 248 C599.5 250 600 252 600 254" />
<path class="l" d="M600 254 C603 251 608 249 616 248.8" />
<path class="l" d="M590 236.8 L614.5 247" />
<path class="lb" d="M592.8 236.6 l2.4 0.9 M597 238.4 l3.4 1.4 M602.4 240.8 l3.4 1.4 M607.8 243.2 l3.4 1.4 M613 245.6 l2.4 1" style="stroke-width:1.7"/>
<path class="lb" d="M591.5 240.5 l2 .8 M594 243.2 l2.4 .9" />
<ellipse class="l" cx="591.2" cy="253.8" rx="1.9" ry="3.4" transform="rotate(-8.0 591.2 253.8)" />
<ellipse class="lb" cx="590.2" cy="262.8" rx="2.5" ry="2.4" style="fill:#fff"/>
<path class="l" d="M586.2 266.2 C590 268.5 594.5 267.5 596.2 263.5" />
<path class="l" d="M600.5 254 C600 260 598.5 265 596 269.8" />
<path class="dd" d="M617.6 231.5 L615.0 241.0" />
<path class="dd" d="M608.8 258.8 L602.2 279.0" />
<path class="dd" d="M601.0 283.5 L599.0 289.5" />
<path class="lb" d="M577.5 261.1 L565.5 260.9 L565.5 264.3 L577.5 264.5 Z" style="fill:#fff"/>
<path class="lt" d="M576.4 261.1 L575.4 264.5" />
<path class="lt" d="M574.8 261.1 L573.8 264.4" />
<path class="lt" d="M573.2 261.0 L572.2 264.4" />
<path class="lt" d="M571.6 261.0 L570.6 264.4" />
<path class="lt" d="M570.0 261.0 L569.0 264.4" />
<path class="lt" d="M568.4 260.9 L567.4 264.3" />
<ellipse class="lb" cx="563.4" cy="262.7" rx="2.0" ry="2.9" style="fill:#fff"/>
<ellipse class="lb" cx="562.0" cy="262.7" rx="2.0" ry="2.9" style="fill:#fff"/>
<path class="l" d="M561.2 261.5 l2 0 M561.2 263.8 l2 0" />
<path class="dd" d="M580.0 262.8 L587.5 262.8" />
<path class="dd" d="M611.5 262.6 L618.0 262.6" />
<ellipse class="lb" cx="620.0" cy="262.8" rx="1.7" ry="2.9" style="fill:#fff"/>
<ellipse class="lb" cx="621.3" cy="262.8" rx="1.7" ry="2.9" style="fill:#fff"/>
<ellipse class="lb" cx="632.6" cy="262.8" rx="3.3" ry="3.2" style="fill:#555"/>
<ellipse class="l" cx="632.6" cy="262.8" rx="1.2" ry="1.3" style="fill:#fff"/>
<ellipse class="lb" cx="642.2" cy="262.8" rx="1.8" ry="2.7" style="fill:#333"/>
<ellipse class="lw" cx="600.6" cy="280.9" rx="3.3" ry="2.3" style="fill:#fff"/>
<ellipse class="lw" cx="600.6" cy="280.6" rx="1.4" ry="0.8" style="fill:#333;stroke-width:0.6"/>
<path class="l" d="M602.6 282.0 L604.6 282.0" />
<path class="lb" d="M594.6 290.3 L594.6 292.9 L595.5 294.8 L598.9 295.3 L601.4 293.9 L601.4 291.3 L600.5 289.4 L597.1 288.9 Z" style="fill:#fff"/>
<path class="lb" d="M601.4 291.3 L598.9 292.7 L595.5 292.2 L594.6 290.3 L597.1 288.9 L600.5 289.4 Z" style="fill:#fff"/>
<path class="lb" d="M598.9 292.7 L598.9 295.3" />
<path class="lb" d="M595.5 292.2 L595.5 294.8" />
<ellipse class="lb" cx="598.0" cy="290.8" rx="1.8" ry="1.0" style="fill:#fff"/>
<path class="ld" d="M69.0 243.5 L61.0 243.5 L22.8 325.0" />
<path class="ld" d="M69.0 263.5 L61.0 263.5 L35.5 329.0" />
<path class="ld" d="M69.0 292.5 L61.0 292.5 L48.5 335.0" />
<path class="ld" d="M61.0 292.5 L60.3 341.0" />
<path class="ld" d="M212.5 360.0 L237.5 356.3" />
<path class="ld" d="M212.5 382.5 L219.4 382.5 L227.2 416.0" />
<path class="ld" d="M302.5 345.5 L295.5 345.5 L281.3 379.0" />
<path class="ld" d="M302.5 365.5 L295.5 365.5 L282.5 388.0" />
<path class="ld" d="M302.5 385.5 L295.0 385.5 L280.0 403.5" />
<path class="ld" d="M302.5 407.5 L294.0 407.5 L281.5 416.0" />
<path class="ld" d="M302.5 428.5 L294.0 428.5 L279.5 455.5" />
<path class="ld" d="M167.5 494.5 L176.0 494.5 L196.0 445.5" />
<path class="ld" d="M169.0 516.5 L176.0 516.5 L218.0 487.0" />
<path class="ld" d="M169.0 539.5 L176.0 539.5 L214.5 518.0" />
<path class="ld" d="M169.0 559.5 L176.0 559.5 L213.5 528.0" />
<path class="ld" d="M359.0 437.5 L352.5 437.5 L327.5 455.0" />
<path class="ld" d="M359.0 459.5 L352.5 459.5 L340.0 466.0" />
<path class="ld" d="M417.5 484.5 L411.0 484.5 L396.0 497.8" />
<path class="ld" d="M375.0 524.5 L382.5 524.5 L394.0 512.5" />
<path class="ld" d="M426.0 550.5 L435.0 550.5 L446.5 535.5" />
<path class="ld" d="M426.0 571.5 L435.0 571.5 L466.0 549.0" />
<path class="ld" d="M460.0 592.5 L469.0 592.5 L495.5 599.0" />
<path class="ld" d="M460.0 616.5 L469.0 616.5 L489.5 622.5" />
<path class="ld" d="M460.0 637.5 L469.0 637.5 L486.0 632.2" />
<path class="ld" d="M529.0 647.5 L517.5 647.5 L493.0 643.5" />
<path class="ld" d="M527.5 625.5 L520.0 625.5 L504.5 615.0" />
<path class="ld" d="M597.0 495.5 L589.0 495.0 L539.0 480.0" />
<path class="ld" d="M596.0 516.5 L589.0 516.5 L559.0 529.5" />
<path class="ld" d="M596.0 539.5 L589.0 539.5 L554.5 544.0" />
<path class="ld" d="M596.0 561.5 L589.0 561.5 L542.5 585.5" />
<path class="ld" d="M596.0 584.5 L589.0 584.5 L540.5 593.8" />
<path class="ld" d="M596.0 607.0 L580.0 606.5 L539.0 603.3" />
<path class="ld" d="M537.5 184.5 L545.0 184.5 L554.5 175.0" />
<path class="ld" d="M557.5 206.5 L564.0 206.5 L591.0 216.5" />
<path class="ld" d="M555.0 228.5 L561.0 228.5 L588.5 246.5" />
<path class="ld" d="M555.0 251.5 L560.0 251.5 L566.0 259.0" />
<path class="ld" d="M714.0 161.5 L706.0 161.5 L686.5 155.5" />
<path class="ld" d="M715.0 184.5 L707.5 184.5 L683.0 169.0" />
<path class="ld" d="M710.0 226.5 L702.5 226.5 L623.5 260.0" />
<path class="ld" d="M710.0 247.5 L702.5 247.5 L636.0 261.0" />
<path class="ld" d="M710.0 267.0 L690.0 266.2 L645.0 262.8" />
<path class="ld" d="M626.0 279.5 L619.0 279.5 L604.5 281.5" />
<path class="ld" d="M626.0 301.5 L619.0 301.5 L601.5 293.5" />
<path class="ld" d="M484.0 257.5 L491.0 257.5 L529.0 285.0" />
<path class="ld" d="M485.0 282.5 L492.5 282.5 L506.0 291.5" />
<path class="ld" d="M511.0 332.5 L521.0 332.5 L527.0 330.5 L532.5 326.5" />
<path class="ld" d="M522.5 351.5 L531.0 351.5 L547.0 335.0" />
<path class="ld" d="M522.5 373.5 L530.0 373.5 L566.5 350.5" />
<path class="ld" d="M688.0 336.0 L668.0 337.3 L630.5 341.3" />
<path class="ld" d="M689.0 360.5 L680.0 360.5 L640.0 349.0" />
<path class="ld" d="M685.0 380.5 L680.0 380.5 L672.5 372.0" />
<path class="ld" d="M685.0 399.5 L677.5 399.5 L634.5 384.0" />
<text class="ts" x="74.7" y="247.3" textLength="30.6" lengthAdjust="spacingAndGlyphs">AAE-11</text>
<text class="ts" x="74.2" y="266.7" textLength="47.9" lengthAdjust="spacingAndGlyphs">DEA-M14PF</text>
<text class="tsb" x="306.6" y="368.5" textLength="40.2" lengthAdjust="spacingAndGlyphs">RP-8x20x3</text>
<text class="ts" x="306.4" y="389.2" textLength="60.2" lengthAdjust="spacingAndGlyphs">RP-8x17x1,5(x2)</text>
<text class="tsb" x="306.1" y="431.6" textLength="40.2" lengthAdjust="spacingAndGlyphs">DEA-M8B</text>
<text class="ts" x="364.9" y="461.3" textLength="42.6" lengthAdjust="spacingAndGlyphs">DE-M8AS</text>
<text class="ts" x="381.7" y="553.9" textLength="38.7" lengthAdjust="spacingAndGlyphs">DE-M8A</text>
<text class="ts" x="121.7" y="542.5" textLength="41.5" lengthAdjust="spacingAndGlyphs">DEA-M8A</text>
<text class="ts" x="425.6" y="595.5" textLength="28.5" lengthAdjust="spacingAndGlyphs">AAI-22</text>
<text class="tsb" x="406.6" y="618.9" textLength="47.4" lengthAdjust="spacingAndGlyphs">RP-8x14x1,6</text>
<text class="ts" x="412.3" y="640.5" textLength="40.5" lengthAdjust="spacingAndGlyphs">DEA-M8B</text>
<text class="tsb" x="602.7" y="544.5" textLength="60.6" lengthAdjust="spacingAndGlyphs">RP-8x14x1,6(x2)</text>
<text class="tsb" x="602.7" y="566.5" textLength="60.6" lengthAdjust="spacingAndGlyphs">RP-8x14x1,6(x2)</text>
<text class="ts" x="602.2" y="589.0" textLength="54.1" lengthAdjust="spacingAndGlyphs">DEA-M8B(x2)</text>
<text class="ts" x="436.6" y="260.2" textLength="40.6" lengthAdjust="spacingAndGlyphs">DEA-M8B</text>
<text class="ts" x="464.5" y="335.7" textLength="40.3" lengthAdjust="spacingAndGlyphs">DEA-M8B</text>
<text class="ts" x="453.4" y="355.9" textLength="63.0" lengthAdjust="spacingAndGlyphs">RP-8x17x1,5 (x2)</text>
<text class="ts" x="693.9" y="363.5" textLength="61.5" lengthAdjust="spacingAndGlyphs">RP-8x17x1,5 (x2)</text>
<text class="ts" x="690.4" y="384.2" textLength="46.0" lengthAdjust="spacingAndGlyphs">VTE-M8x80</text>
<text class="ts" x="690.3" y="402.5" textLength="56.1" lengthAdjust="spacingAndGlyphs">VTE-M8x50FP</text>
<text class="ts" x="720.2" y="188.5" textLength="62.5" lengthAdjust="spacingAndGlyphs">RP-6x12x1,5 (x3)</text>
<text class="tsb" x="715.7" y="230.8" textLength="47.2" lengthAdjust="spacingAndGlyphs">RP-6x12x1,5</text>
<text class="tsb" x="715.6" y="250.4" textLength="40.7" lengthAdjust="spacingAndGlyphs">DEA-M6B</text>
<text class="ts" x="631.1" y="282.6" textLength="42.9" lengthAdjust="spacingAndGlyphs">RC-M6 (x3)</text>
<text class="ts" x="631.1" y="304.4" textLength="55.4" lengthAdjust="spacingAndGlyphs">DEA-M6B (x3)</text>
<text class="tm" x="111.6" y="563.7" textLength="51.9" lengthAdjust="spacingAndGlyphs">40.0217.00</text>
<text class="tm" x="533.6" y="652.2" textLength="51.9" lengthAdjust="spacingAndGlyphs">40.0217.00</text>
<text class="tm" x="602.8" y="612.5" textLength="69.7" lengthAdjust="spacingAndGlyphs">40.0217.00(x2)</text>
<text class="tm" x="715.9" y="270.8" textLength="51.7" lengthAdjust="spacingAndGlyphs">40.0217.00</text>
<text class="tn2" x="73.5" y="297.4" textLength="15.2" lengthAdjust="spacingAndGlyphs">13</text>
<text class="tg" x="200.2" y="365.5" textLength="8.1" lengthAdjust="spacingAndGlyphs">8</text>
<text class="tg" x="200.6" y="388.4" textLength="7.7" lengthAdjust="spacingAndGlyphs">9</text>
<text class="tn" x="305.6" y="350.3" textLength="14.3" lengthAdjust="spacingAndGlyphs">11</text>
<text class="tn" x="305.2" y="411.5" textLength="15.5" lengthAdjust="spacingAndGlyphs">12</text>
<text class="tg" x="155.9" y="498.4" textLength="7.7" lengthAdjust="spacingAndGlyphs">7</text>
<text class="tn" x="144.5" y="521.7" textLength="20.1" lengthAdjust="spacingAndGlyphs">*10</text>
<text class="tn" x="364.2" y="442.8" textLength="14.5" lengthAdjust="spacingAndGlyphs">16</text>
<text class="tn2" x="421.9" y="489.5" textLength="7.7" lengthAdjust="spacingAndGlyphs">6</text>
<text class="tn2" x="362.0" y="529.5" textLength="8.2" lengthAdjust="spacingAndGlyphs">5</text>
<text class="tn2" x="407.4" y="575.2" textLength="13.5" lengthAdjust="spacingAndGlyphs">17</text>
<text class="tn" x="533.5" y="629.6" textLength="14.1" lengthAdjust="spacingAndGlyphs">20</text>
<text class="tg2" x="602.7" y="499.3" textLength="6.9" lengthAdjust="spacingAndGlyphs">4</text>
<text class="tn" x="601.7" y="522.5" textLength="13.8" lengthAdjust="spacingAndGlyphs">11</text>
<text class="tn2" x="524.8" y="189.1" textLength="9.1" lengthAdjust="spacingAndGlyphs">1</text>
<text class="tn2" x="529.8" y="210.2" textLength="26.2" lengthAdjust="spacingAndGlyphs">*22</text>
<text class="tn2" x="536.1" y="233.5" textLength="13.6" lengthAdjust="spacingAndGlyphs">*2</text>
<text class="tn2" x="534.9" y="255.6" textLength="15.3" lengthAdjust="spacingAndGlyphs">19</text>
<text class="tn" x="719.4" y="165.6" textLength="14.0" lengthAdjust="spacingAndGlyphs">18</text>
<text class="tg" x="473.3" y="288.5" textLength="7.3" lengthAdjust="spacingAndGlyphs">3</text>
<text class="tg" x="501.0" y="378.4" textLength="15.3" lengthAdjust="spacingAndGlyphs">14</text>
<text class="tn" x="693.1" y="341.2" textLength="14.3" lengthAdjust="spacingAndGlyphs">15</text>
<text class="tb" x="28.7" y="645.2" textLength="158.6" lengthAdjust="spacingAndGlyphs">* PARTICOLARE OPTIONAL</text>
</svg>
</body></html>
